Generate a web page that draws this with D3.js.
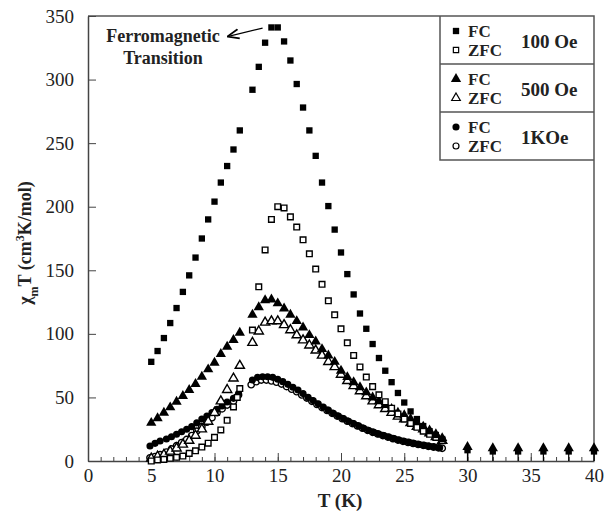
<!DOCTYPE html>
<html>
<head>
<meta charset="utf-8">
<script src="https://cdn.jsdelivr.net/npm/d3@7"></script>
<style>
  body { margin: 0; background: #fff; }
  svg text { font-family: "Liberation Serif", "DejaVu Serif", serif !important; fill: #222; }
</style>
</head>
<body>
<svg id="chart"></svg>
<script>
// ---- data: [T (K), chi_m*T] ----
const fc100 = [[5,78],[5.5,86.5],[6,96.7],[6.5,108.5],[7,120.3],[7.5,133],[8,146],[8.5,160],[9,175],[9.5,190],
  [10,204],[10.5,219],[11,232],[11.5,245],[12,260],[13,292],[13.5,310],[14,329],[14.5,341],[15,341],[15.5,330],
  [16,315],[16.5,296.5],[17,278],[17.5,260],[18,240],[18.5,219],[19,200.5],[19.5,182],[20,164],[20.5,147],
  [21,131],[21.5,116],[22,104],[22.5,92],[23,81],[23.5,71],[24,62],[24.5,53.5],[25,46],[25.5,39],[26,33],
  [26.5,27.5],[27,23.5],[27.5,20.5],[28,17.3]];
const zfc100 = [[5,0],[5.5,0.8],[6,1.3],[6.5,2.1],[7,2.9],[7.5,3.9],[8,6],[8.5,8],[9,11],[9.5,14],[10,18.6],
  [10.5,24.4],[11,32],[11.5,42.5],[11.8,50],[12,57],[13,103],[13.5,137],[14,166],[14.5,190],[15,200],[15.5,199],
  [16,192],[16.5,184],[17,174],[17.5,163],[18,151],[18.5,139],[19,126],[19.5,115],[20,104],[20.5,93],[21,83],
  [21.5,74],[22,66],[22.5,58.5],[23,52],[23.5,46.6],[24,41.5],[24.5,37],[25,33],[25.5,29.5],[26,26.5],
  [26.5,23.5],[27,21],[27.5,18.5],[28,16]];
const fc500 = [[5,30],[5.5,33.6],[6,38],[6.5,42.2],[7,46.6],[7.5,51.1],[8,55.8],[8.5,60.6],[9,66.3],[9.5,72.1],
  [10,77.3],[10.5,84.2],[11,89.9],[11.5,95.2],[12,100.9],[13,115],[13.5,121],[14,126.5],[14.5,127],[15,124],
  [15.5,120],[16,115],[16.5,110],[17,105],[17.5,99],[18,94],[18.5,88],[19,83],[19.5,78],[20,71],[20.5,66],
  [21,62],[21.5,58],[22,54],[22.5,50],[23,47],[23.5,44],[24,41],[24.5,38],[25,36],[25.5,33],[26,30],[26.5,27],
  [27,24],[27.5,21],[28,18]];
const zfc500 = [[5,2],[5.5,3.5],[6,5],[6.5,7.5],[7,10],[7.5,13],[8,16],[8.5,20],[9,25],[9.5,31],[10,38],
  [10.5,47],[11,56],[11.5,65],[12,75],[13,93],[13.5,102],[14,109],[14.5,110],[15,110],[15.5,107],[16,103],
  [16.5,99],[17,95],[17.5,91],[18,87],[18.5,83],[19,78],[19.5,74],[20,68],[20.5,63],[21,59],[21.5,55],[22,51],
  [22.5,47],[23,44],[23.5,41],[24,38],[24.5,35],[25,33],[25.5,30],[26,27],[26.5,25],[27,22],[27.5,19],[28,16]];
const fc1k = [[4.9,11.8],[5.3,13.9],[5.7,15.7],[6.2,17.3],[6.6,19.1],[7,21],[7.4,23],[7.8,25],[8.2,27],[8.6,30],
  [9,33],[9.4,35.4],[9.8,38],[10.2,40.6],[10.6,43.3],[11,46.4],[11.5,49.3],[11.9,53],
  [13,63.7],[13.4,65.8],[13.8,66.3],[14.2,66.3],[14.6,65.8],[15,64.3],[15.4,62.4],[15.8,60.3],[16.2,58],
  [16.6,55.8],[17,53],[17.4,50],[17.8,47.5],[18.2,45],[18.6,42.5],[19,40],[19.4,37.6],[19.8,35.4],[20.2,33.3],
  [20.6,31.3],[21,29.4],[21.4,27.6],[21.8,25.8],[22.2,24],[22.6,22.5],[23,21.2],[23.4,20],[23.8,18.8],
  [24.2,17.6],[24.6,16.5],[25,15.5],[25.4,14.6],[25.8,13.8],[26.2,13],[26.6,12.3],[27,11.6],[27.4,11],
  [27.8,10.4]];
const zfc1k = [[4.9,2.5],[5.3,3.5],[5.7,5],[6.2,7],[6.6,9.5],[7,12],[7.4,14.5],[7.8,17],[8.2,20],[8.6,23.5],
  [9,27],[9.4,30.5],[9.8,34],[10.2,38],[10.6,41],[11,44],[11.5,47],[11.9,52],
  [12.9,60],[13.3,62.4],[13.7,63.7],[14.1,63.7],[14.5,63],[14.9,62],[15.3,60.5],[15.7,58.5],[16.1,56.5],
  [16.5,54.5],[16.9,52],[17.3,49.5],[17.7,47],[18.1,44.5],[18.5,42],[18.9,39.8],[19.3,37.5],[19.7,35.3],
  [20.1,33.3],[20.5,31.3],[20.9,29.4],[21.3,27.6],[21.7,25.8],[22.1,24.1],[22.5,22.6],[22.9,21.3],[23.3,20],
  [23.7,18.8],[24.1,17.6],[24.5,16.5],[24.9,15.5],[25.3,14.6],[25.7,13.8],[26.1,13],[26.5,12.3],[26.9,11.6],
  [27.3,11],[27.7,10.4],[28,10]];
// high-temperature points (FC 100 Oe squares and FC 500 Oe triangles overlap)
const tail100 = [[30,8.5],[32,7.5],[34,7.5],[36,7.5],[38,7.5],[40,7.5]];
const tail500 = [[30,11],[32,10],[34,10],[36,10],[38,10],[40,10]];

const yTicks = [0, 50, 100, 150, 200, 250, 300, 350];
const xTicks = [0, 5, 10, 15, 20, 25, 30, 35, 40];

const legendGroups = [
  { field: "100 Oe", shape: "square" },
  { field: "500 Oe", shape: "triangle" },
  { field: "1KOe", shape: "circle" }
];

const FONT = '"Liberation Serif", "DejaVu Serif", serif';

// ---- layout ----
const width = 604, height = 514;
const margin = { top: 16, right: 10, bottom: 53, left: 88 };

const svg = d3.select("#chart").attr("width", width).attr("height", height)
  .attr("font-family", FONT);

const x = d3.scaleLinear().domain([0, 40]).range([margin.left, width - margin.right]);
const y = d3.scaleLinear().domain([0, 350]).range([height - margin.bottom, margin.top]);

const symbols = {
  square: d3.symbol().type(d3.symbolSquare),
  triangle: d3.symbol().type(d3.symbolTriangle),
  circle: d3.symbol().type(d3.symbolCircle)
};
const sizes = { square: 40, triangle: 46, circle: 40 };

function plot(data, shape, filled) {
  const sz = filled ? sizes[shape] : sizes[shape] * 0.8;
  svg.append("g").selectAll("path")
    .data(data)
    .join("path")
    .attr("transform", d => `translate(${x(d[0])},${y(d[1])})`)
    .attr("d", symbols[shape].size(sz)())
    .attr("fill", filled ? "#000" : "#fff")
    .attr("stroke", "#000")
    .attr("stroke-width", filled ? 0 : 1.4);
}

// ---- frame (top + right) ----
svg.append("path")
  .attr("d", `M${x(0)},${y(350)}H${x(40)}V${y(0)}`)
  .attr("fill", "none")
  .attr("stroke", "#555")
  .attr("stroke-width", 1.5);

// ---- axes ----
const xMinor = svg.append("g")
  .attr("transform", `translate(0,${y(0)})`)
  .call(d3.axisBottom(x).tickValues(d3.range(0, 41)).tickSizeInner(-4).tickSizeOuter(0).tickFormat(""));
xMinor.select(".domain").remove();
xMinor.selectAll("line").attr("stroke", "#444");

const xAxis = svg.append("g")
  .attr("transform", `translate(0,${y(0)})`)
  .call(d3.axisBottom(x).tickValues(xTicks).tickSizeInner(-8).tickSizeOuter(0).tickPadding(8));
xAxis.attr("font-family", FONT);
xAxis.select(".domain").attr("stroke", "#444").attr("stroke-width", 1.5);
xAxis.selectAll("line").attr("stroke", "#444");
xAxis.selectAll("text").style("font-size", "19px").style("font-family", FONT).attr("fill", "#333");

const yAxis = svg.append("g")
  .attr("transform", `translate(${x(0)},0)`)
  .call(d3.axisLeft(y).tickValues(yTicks).tickSizeInner(-8).tickSizeOuter(0).tickPadding(14));
yAxis.attr("font-family", FONT);
yAxis.select(".domain").attr("stroke", "#444").attr("stroke-width", 1.5);
yAxis.selectAll("line").attr("stroke", "#444");
yAxis.selectAll("text").style("font-size", "19px").style("font-family", FONT).attr("fill", "#333");

// axis titles
svg.append("text")
  .attr("x", 340).attr("y", 507)
  .attr("text-anchor", "middle")
  .style("font-family", FONT)
  .style("font-size", "19px").style("font-weight", "bold")
  .text("T (K)");

const yl = svg.append("text")
  .attr("transform", `translate(31,${243}) rotate(-90)`)
  .attr("text-anchor", "middle")
  .style("font-family", FONT)
  .style("font-size", "18px").style("font-weight", "bold");
yl.append("tspan").text("χ");
yl.append("tspan").attr("baseline-shift", "sub").style("font-size", "12px").text("m");
yl.append("tspan").text("T (cm");
yl.append("tspan").attr("baseline-shift", "super").style("font-size", "12px").text("3");
yl.append("tspan").text("K/mol)");

// ---- stems under the high-T points ----
svg.append("g").selectAll("line")
  .data(tail500)
  .join("line")
  .attr("x1", d => x(d[0])).attr("x2", d => x(d[0]))
  .attr("y1", d => y(d[1])).attr("y2", y(0))
  .attr("stroke", "#000").attr("stroke-width", 1.2);

// ---- series ----
plot(zfc1k, "circle", false);
plot(fc1k, "circle", true);
plot(zfc500, "triangle", false);
plot(fc500, "triangle", true);
plot(zfc100, "square", false);
plot(fc100, "square", true);
plot(tail100, "square", true);
plot(tail500, "triangle", true);

// ---- annotation ----
const note = svg.append("text")
  .attr("text-anchor", "middle")
  .style("font-family", FONT)
  .style("font-size", "18px").style("font-weight", "bold");
note.append("tspan").attr("x", 163).attr("y", 42).text("Ferromagnetic");
note.append("tspan").attr("x", 163).attr("y", 64).text("Transition");

svg.append("defs").append("marker")
  .attr("id", "arrow")
  .attr("viewBox", "0 0 10 10")
  .attr("refX", 9).attr("refY", 5)
  .attr("markerWidth", 9).attr("markerHeight", 9)
  .attr("orient", "auto")
  .append("path")
  .attr("d", "M0,1 L10,5 L0,9")
  .attr("fill", "none").attr("stroke", "#000").attr("stroke-width", 1.5);

svg.append("line")
  .attr("x1", x(13.8)).attr("y1", y(340.5))
  .attr("x2", x(11.1)).attr("y2", y(334))
  .attr("stroke", "#000").attr("stroke-width", 1.3)
  .attr("marker-end", "url(#arrow)");

// ---- legend ----
const lgX = 440, lgTop = y(350), rowH = 48;
const legend = svg.append("g");
legend.append("path")
  .attr("d", `M${x(40)},${lgTop + 3 * rowH}H${lgX}V${lgTop}`)
  .attr("fill", "none").attr("stroke", "#555").attr("stroke-width", 1.5);

legendGroups.forEach((g, i) => {
  const top = lgTop + i * rowH;
  if (i > 0) {
    legend.append("line")
      .attr("x1", lgX).attr("x2", x(40))
      .attr("y1", top).attr("y2", top)
      .attr("stroke", "#555").attr("stroke-width", 1.5);
  }
  [["FC", true, 15], ["ZFC", false, 34]].forEach(([lab, filled, dy]) => {
    legend.append("path")
      .attr("transform", `translate(456,${top + dy})`)
      .attr("d", symbols[g.shape].size(filled ? sizes[g.shape] : sizes[g.shape] * 0.7)())
      .attr("fill", filled ? "#000" : "#fff")
      .attr("stroke", "#000")
      .attr("stroke-width", filled ? 0 : 1.2);
    legend.append("text")
      .attr("x", 468).attr("y", top + dy + 6)
      .style("font-family", FONT)
      .style("font-size", "17px").style("font-weight", "bold")
      .text(lab);
  });
  legend.append("text")
    .attr("x", 521).attr("y", top + 32)
    .style("font-family", FONT)
    .style("font-size", "19px").style("font-weight", "bold")
    .text(g.field);
});
</script>
</body>
</html>
